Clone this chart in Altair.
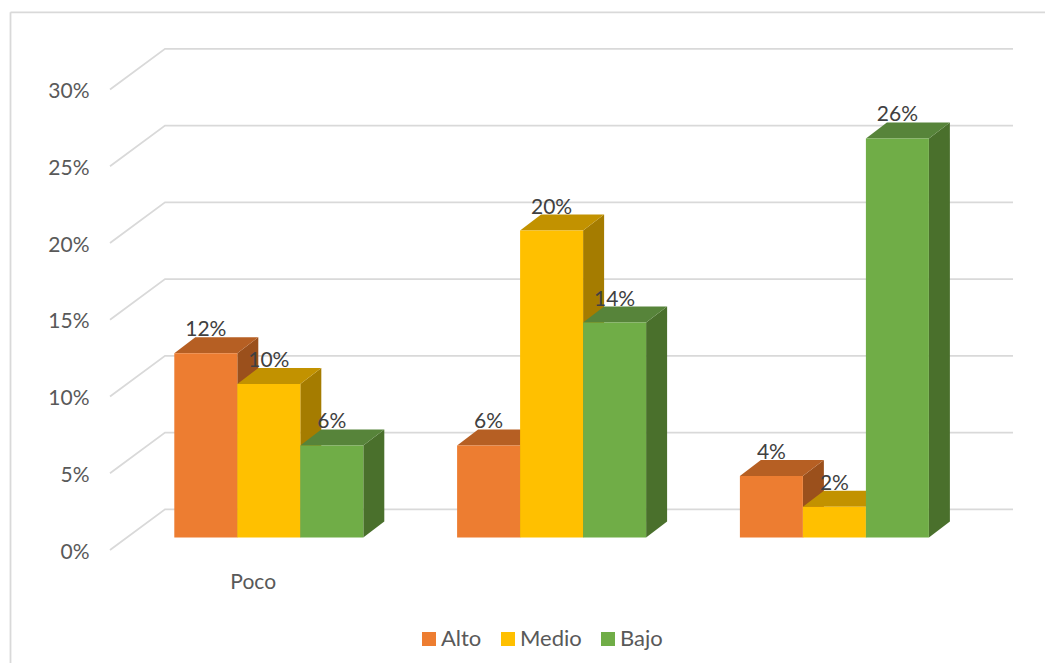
import altair as alt
import pandas as pd

# ---- chart values
categories = ["Poco", "", ""]
series_names = ["Alto", "Medio", "Bajo"]
alto = [12, 6, 4]
medio = [10, 20, 2]
bajo = [6, 14, 26]
tick_values = [0, 5, 10, 15, 20, 25, 30]
front_colors = ["#ED7D31", "#FFC000", "#70AD47"]
top_colors = ["#B65F23", "#C29200", "#57843A"]
side_colors = ["#9B501C", "#A57C00", "#4A702C"]

# ---- scene geometry (x in page pixels, y in percent units)
W, H = 1037, 655
PX_PER_PCT = 15.35
Y0_PAGE = 550.0
y_domain = [(Y0_PAGE - (8 + H)) / PX_PER_PCT, (Y0_PAGE - 8) / PX_PER_PCT]
x_domain = [8, 8 + W]
x_scale = alt.Scale(domain=x_domain, nice=False, zero=False)
y_scale = alt.Scale(domain=y_domain, nice=False, zero=False)

BAR_W = 63.0
GROUP_START = 174.3
GROUP_STEP = 282.8
DX = 21.0
DY = 16 / PX_PER_PCT
BASE = 12.5 / PX_PER_PCT
WALL_X0, WALL_X1, WALL_X2 = 110, 165, 1013
WALL_DY = 40.7 / PX_PER_PCT
CATEGORY_X = 252.7

values = [alto, medio, bajo]
front_rows, label_rows = [], []
side_rows = {s: [] for s in series_names}
top_rows = {s: [] for s in series_names}
for si, s in enumerate(series_names):
    for gi in range(3):
        v = values[si][gi]
        x0 = GROUP_START + gi * GROUP_STEP + si * BAR_W
        x1 = x0 + BAR_W
        t = v + BASE
        front_rows.append(dict(series=s, x=x0, x2=x1, y=BASE, y2=t))
        label_rows.append(dict(x=(x0 + x1) / 2, y=t, label=f"{v}%"))
        side_rows[s] += [
            dict(bar=gi, x=x1, y=t, y2=BASE),
            dict(bar=gi, x=x1 + DX, y=t + DY, y2=BASE + DY),
        ]
        top_rows[s] += [
            dict(bar=gi, x=x0, y=t, y2=t),
            dict(bar=gi, x=x0 + DX, y=t + DY, y2=t),
            dict(bar=gi, x=x1, y=t + DY, y2=t),
            dict(bar=gi, x=x1 + DX, y=t + DY, y2=t + DY),
        ]

grid_rows = []
for p in tick_values:
    grid_rows += [
        dict(tick=p, x=WALL_X0, y=p),
        dict(tick=p, x=WALL_X1, y=p + WALL_DY),
        dict(tick=p, x=WALL_X2, y=p + WALL_DY),
    ]

FONT = "Lato"
GRAY = "#595959"
FRAME = "#D9D9D9"

x_axis = alt.Axis(
    values=[CATEGORY_X],
    labelExpr="'" + categories[0] + "'",
    domain=False, ticks=False, grid=False, labelFont=FONT, labelFontSize=21,
    labelColor=GRAY, labelBaseline="middle", labelPadding=582 - (8 + H),
)
y_axis = alt.Axis(
    values=tick_values, labelExpr="datum.value + '%'",
    domain=False, ticks=False, grid=False, labelFont=FONT, labelFontSize=21,
    labelColor=GRAY, labelPadding=-81, labelOffset=2,
)
x_plain = alt.X("x:Q", scale=x_scale, axis=x_axis, title=None)
y_plain = alt.Y("y:Q", scale=y_scale, axis=y_axis, title=None, stack=None)

grid = alt.Chart(pd.DataFrame(grid_rows)).mark_line(
    color=FRAME, strokeWidth=1.8, interpolate="linear"
).encode(x=x_plain, y=y_plain, detail="tick:N")

frame_top = alt.Chart(pd.DataFrame([dict(x=10.5, x2=x_domain[1], y=(Y0_PAGE - 12.3) / PX_PER_PCT)])).mark_rule(
    color=FRAME, strokeWidth=1.8
).encode(x=x_plain, x2="x2:Q", y=y_plain)
frame_left = alt.Chart(pd.DataFrame([dict(x=10.5, y=(Y0_PAGE - 12.3) / PX_PER_PCT, y2=y_domain[0])])).mark_rule(
    color=FRAME, strokeWidth=1.8
).encode(x=x_plain, y=y_plain, y2="y2:Q")

layers = [grid, frame_top, frame_left]
front_df = pd.DataFrame(front_rows)
for si, s in enumerate(series_names):
    side = alt.Chart(pd.DataFrame(side_rows[s])).mark_area(color=side_colors[si]).encode(
        x=x_plain, y=y_plain, y2="y2:Q", detail="bar:N"
    )
    top = alt.Chart(pd.DataFrame(top_rows[s])).mark_area(color=top_colors[si]).encode(
        x=x_plain, y=y_plain, y2="y2:Q", detail="bar:N"
    )
    front = alt.Chart(front_df[front_df.series == s]).mark_rect().encode(
        x=x_plain, x2="x2:Q", y=y_plain, y2="y2:Q",
        color=alt.Color(
            "series:N",
            scale=alt.Scale(domain=series_names, range=front_colors),
            legend=alt.Legend(
                title=None, orient="none", legendX=410, legendY=620, direction="horizontal",
                columns=3, symbolType="square", symbolSize=196, symbolStrokeWidth=0,
                labelFont=FONT, labelFontSize=22, labelColor=GRAY, labelOffset=1,
                columnPadding=15,
            ),
        ),
    )
    layers += [side, top, front]

labels = alt.Chart(pd.DataFrame(label_rows)).mark_text(
    font=FONT, fontSize=21, color="#404040", baseline="middle", dy=-23, dx=0
).encode(x=x_plain, y=y_plain, text="label:N")
layers.append(labels)

chart = alt.layer(*layers).properties(
    width=W, height=H, padding=0, autosize=alt.AutoSizeParams(type="none"),
    background="white",
).configure_view(stroke=None)

chart.save("out.html", embed_options={"renderer": "svg", "actions": False})
